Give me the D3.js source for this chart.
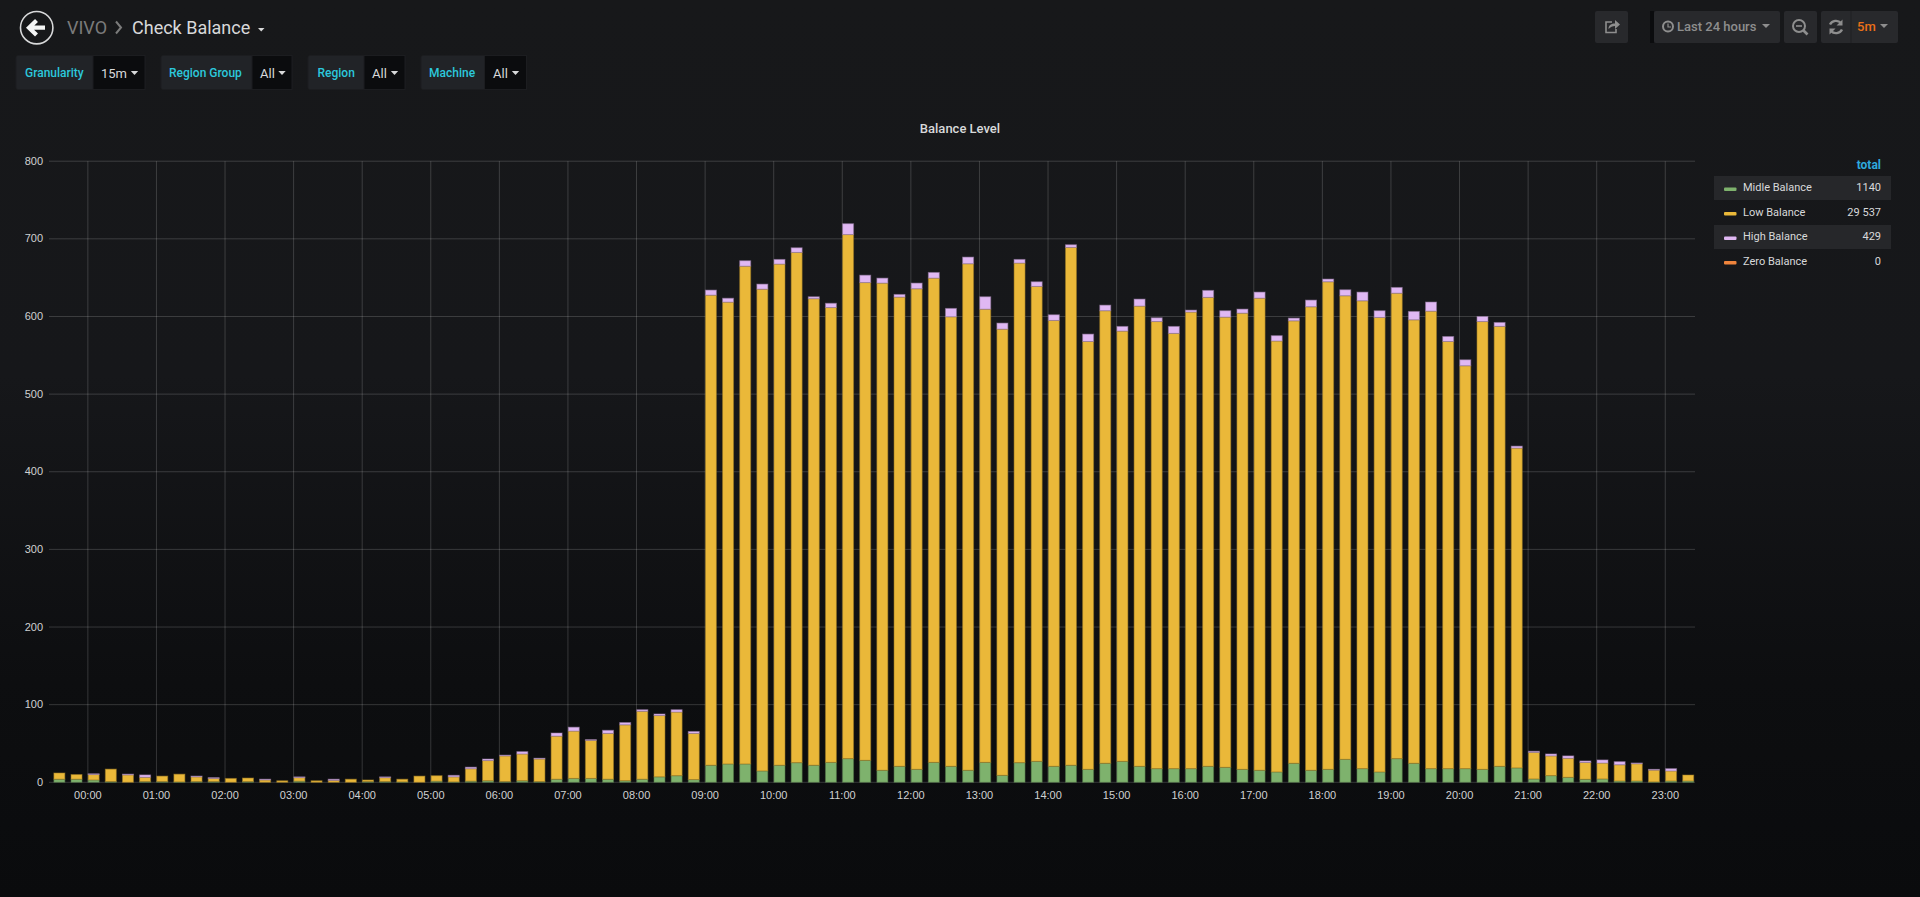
<!DOCTYPE html>
<html>
<head>
<meta charset="utf-8">
<script src="https://d3js.org/d3.v7.min.js"></script>
<style>
  html, body {margin:0; padding:0; width:1920px; height:897px; overflow:hidden;
    background:linear-gradient(#17181a 0%, #16171a 42%, #0d0e10 76%, #0a0b0d 100%);}
  svg {display:block; font-family:Roboto, sans-serif;}
  .tick text {fill:#d0d1d2; font-size:11px;}
  .grid .tick line {stroke:#fff; stroke-opacity:.17;}
</style>
</head>
<body>
<svg width="1920" height="897"></svg>
<script>
// one value per 15 minute bar, from 23:30 the day before to 23:15
const middleBalance = [4,4,3,1,0,1,1,0.5,1,1,0,1,0,0,1.5,0,0,0,1,1,0.5,0,1.5,0.5,1.5,2,1,2,1,4,5,5,4,2,4,7,8.5,3.5,
  22,23.6,23.6,14.6,22,25.3,22,25.7,30.5,28.3,15.5,20.6,16.7,25.7,20.6,15.5,25.7,9,25.3,27,20.6,22,
  16.7,24.5,27,20.6,17.6,17.6,17.6,20.6,19.3,16.7,15.5,13.3,24.5,15.5,16.7,29.6,17.6,13.3,30.5,24.5,
  17.6,17.6,17.6,16.7,20.6,18.5,4.3,8.6,6.4,3.9,4.3,1.7,1.7,0.5,1.7,1.7];
const lowBalance = [8,6,7,16,9.5,5.5,7,10,6,4,5,4.5,3,2,4.5,2,2.5,4,2,5,3.5,8,7,6.5,16,26,33,34.5,29,55.5,61,49,59,72,87.5,79,82,59.5,
  605.5,594.9,641.2,620.6,645.5,657.2,600.9,585.8,675,615.4,627.5,604.4,619,623.7,579,652.4,583.7,574.7,643.5,611.7,574.3,667,
  551.1,582.9,554.2,592.8,575.9,560.6,588.1,604,579.9,587.6,608.1,555.1,569.9,597,628,597.1,602.6,585.4,599.5,571.2,
  589.3,550.2,518.9,576.8,566.7,412,34.2,25.4,24.6,21.6,20.5,20.9,22.2,15.2,12.9,7.7];
const highBalance = [0,0,1,0,1,3,0,0,1,1,0,0,1,0,1,0,1.5,0,0,1,0,0,0,2,2,2,1,3,1,4,5,1,4,3,2,2,3,2.5,
  6.5,5,7,6.5,6,6,2.5,5.5,14,9.5,6.4,3.4,7.3,7.3,10.8,8.6,16,7.8,4.7,6,7.3,3.4,
  9.5,7.2,6,9,4.8,9,2.5,9,8.2,5.2,7.8,6.9,3.5,8.6,3.5,7.7,11.2,8.7,7.4,10.8,
  11.7,6.4,7.7,6.5,5,2.5,1.5,2.5,3,2,4,4,1,1,3,0];
const zeroBalance = middleBalance.map(() => 0);

const seriesNames = ["Midle Balance", "Low Balance", "High Balance", "Zero Balance"];
const seriesTotals = ["1140", "29 537", "429", "0"];
const seriesColors = ["#7eb26d", "#eab839", "#e0b8f3", "#ef843c"];
const yTicks = [0, 100, 200, 300, 400, 500, 600, 700, 800];
const variables = [
  {label:"Granularity", value:"15m", x0:16, xd:93, x1:145, tx:25, vx:101, cx:134.5},
  {label:"Region Group", value:"All", x0:161, xd:252, x1:292, tx:169, vx:260, cx:282},
  {label:"Region", value:"All", x0:308, xd:364, x1:405, tx:317.5, vx:372, cx:394.5},
  {label:"Machine", value:"All", x0:421, xd:484.5, x1:526.5, tx:429, vx:493, cx:515.5}
];

const svg = d3.select("svg");
const dayStart = new Date(2019, 0, 1, 0, 0);
const times = d3.range(middleBalance.length).map(i => d3.timeMinute.offset(dayStart, (i - 2) * 15));
const rows = times.map((t, i) => ({
  time: t,
  [seriesNames[0]]: middleBalance[i],
  [seriesNames[1]]: lowBalance[i],
  [seriesNames[2]]: highBalance[i],
  [seriesNames[3]]: zeroBalance[i]
}));

const x = d3.scaleTime()
  .domain([d3.timeMinute.offset(dayStart, -33.5), d3.timeMinute.offset(dayStart, 1406.4)])
  .range([49, 1695]);
const y = d3.scaleLinear().domain([0, 800]).range([782.3, 161.2]);

// gridlines and tick labels
const hours = d3.timeHour.range(dayStart, d3.timeHour.offset(dayStart, 24));
const gx = svg.append("g").attr("class", "grid")
  .attr("transform", "translate(0,782.3)")
  .call(d3.axisBottom(x).tickValues(hours).tickFormat(d3.timeFormat("%H:%M"))
    .tickSize(-(782.3 - 161.2)).tickPadding(9).offset(0));
gx.select(".domain").remove();
const gy = svg.append("g").attr("class", "grid")
  .attr("transform", "translate(49,0)")
  .call(d3.axisLeft(y).tickValues(yTicks).tickSize(-(1695 - 49)).tickPadding(6).offset(0));
gy.select(".domain").remove();

// stacked bars
const stack = d3.stack().keys(seriesNames);
const barWidth = 11;
svg.append("g").selectAll("g")
  .data(stack(rows))
  .join("g")
  .attr("fill", (d, i) => seriesColors[i])
  .attr("stroke", (d, i) => d3.color(seriesColors[i]).darker(1.2))
  .attr("stroke-opacity", .55)
  .selectAll("rect")
  .data(d => d.filter(p => p[1] > p[0]))
  .join("rect")
  .attr("x", d => x(d.data.time) + .3)
  .attr("y", d => y(d[1]))
  .attr("width", barWidth)
  .attr("height", d => y(d[0]) - y(d[1]));

svg.append("text").attr("x", 960).attr("y", 133).attr("text-anchor", "middle")
  .attr("fill", "#d8d9da").attr("font-size", 13).attr("font-weight", 500).text("Balance Level");

// legend
const legend = svg.append("g");
legend.append("text").attr("x", 1881).attr("y", 169).attr("text-anchor", "end")
  .attr("fill", "#2ea9dd").attr("font-size", 12).attr("font-weight", 700).text("total");
const legendRow = legend.selectAll("g").data(seriesNames).join("g")
  .attr("transform", (d, i) => `translate(0,${176 + i * 24.5})`);
legendRow.filter((d, i) => i % 2 == 0).append("rect")
  .attr("x", 1714).attr("width", 177).attr("height", 24).attr("fill", "#26272a");
legendRow.append("rect").attr("x", 1724).attr("y", 11.5).attr("width", 12.5).attr("height", 3.5)
  .attr("rx", 1).attr("fill", (d, i) => seriesColors[i]);
legendRow.append("text").attr("x", 1743).attr("y", 15).attr("fill", "#d8d9da").attr("font-size", 11).text(d => d);
legendRow.append("text").attr("x", 1881).attr("y", 15).attr("text-anchor", "end")
  .attr("fill", "#d8d9da").attr("font-size", 11).text((d, i) => seriesTotals[i]);

// header
const head = svg.append("g");
head.append("circle").attr("cx", 36.7).attr("cy", 27.7).attr("r", 16.2)
  .attr("fill", "none").attr("stroke", "#d8d9da").attr("stroke-width", 1.6);
head.append("path").attr("d", "M45 27.7H31M36.5 20.5L29 27.7L36.5 35")
  .attr("fill", "none").attr("stroke", "#f4f5f5").attr("stroke-width", 4.2);
head.append("text").attr("x", 67).attr("y", 33.5).attr("fill", "#7b7b7b").attr("font-size", 18).text("VIVO");
head.append("path").attr("d", "M116 21.5L121 27.5L116 33.5").attr("fill", "none")
  .attr("stroke", "#7b7b7b").attr("stroke-width", 2);
head.append("text").attr("x", 132).attr("y", 33.5).attr("fill", "#d8d9da").attr("font-size", 18).text("Check Balance");
head.append("path").attr("d", "M258 28H264.5L261.2 31.5Z").attr("fill", "#d8d9da");

// template variables
const vars = svg.append("g").selectAll("g").data(variables).join("g");
vars.append("rect").attr("x", d => d.x0).attr("y", 55.5).attr("width", d => d.x1 - d.x0).attr("height", 34)
  .attr("rx", 2).attr("fill", "#212327").attr("stroke", "#1c1d20");
vars.append("rect").attr("x", d => d.xd).attr("y", 55.5).attr("width", d => d.x1 - d.xd).attr("height", 34)
  .attr("fill", "#0b0c0e").attr("stroke", "#1c1d20");
vars.append("text").attr("x", d => d.tx).attr("y", 77).attr("fill", "#2cc8dc")
  .attr("font-size", 12).attr("font-weight", 500).text(d => d.label);
vars.append("text").attr("x", d => d.vx).attr("y", 78).attr("fill", "#d8d9da").attr("font-size", 13).text(d => d.value);
vars.append("path").attr("d", d => `M${d.cx - 3.7} 71H${d.cx + 3.7}L${d.cx} 75Z`).attr("fill", "#d8d9da");

// right toolbar
const bar = svg.append("g");
[[1595, 33], [1654, 126], [1784, 33], [1821, 77]].forEach(b => {
  bar.append("rect").attr("x", b[0]).attr("y", 11).attr("width", b[1]).attr("height", 32)
    .attr("rx", 2).attr("fill", "#28292c");
});
bar.append("rect").attr("x", 1650).attr("y", 11).attr("width", 4).attr("height", 32).attr("fill", "#0b0c0e");
bar.append("line").attr("x1", 1851).attr("x2", 1851).attr("y1", 11).attr("y2", 43).attr("stroke", "#1f2023");
const icon = bar.append("g").attr("fill", "none").attr("stroke", "#8e8e8e").attr("stroke-width", 2);
icon.append("path").attr("d", "M1612 22H1606V32.5H1616V29").attr("stroke-width", 1.6);
icon.append("path").attr("d", "M1608.5 29C1608.5 25 1611.5 23.5 1615 23.5V20L1620 24.5L1615 29V26C1612.5 26 1610.5 27 1608.5 29Z")
  .attr("fill", "#8e8e8e").attr("stroke", "none");
icon.append("circle").attr("cx", 1668).attr("cy", 26.5).attr("r", 5);
icon.append("path").attr("d", "M1668 23.5V27H1671").attr("stroke-width", 1.2);
icon.append("circle").attr("cx", 1799).attr("cy", 26).attr("r", 6);
icon.append("path").attr("d", "M1796 26H1802").attr("stroke-width", 1.6);
icon.append("path").attr("d", "M1803.5 30.5L1807.5 34.5").attr("stroke-width", 2.6);
icon.append("path").attr("d", "M1830 24.5A6.8 6.8 0 0 1 1841 23M1842 29.5A6.8 6.8 0 0 1 1831 31").attr("stroke-width", 2.4);
icon.append("path").attr("d", "M1842.5 19.5V25.5H1836.5ZM1829.5 34.5V28.5H1835.5Z").attr("fill", "#8e8e8e").attr("stroke", "none");
bar.append("text").attr("x", 1677).attr("y", 31).attr("fill", "#8e8e8e").attr("font-size", 13)
  .attr("font-weight", 500).text("Last 24 hours");
bar.append("path").attr("d", "M1762 24H1770L1766 28Z").attr("fill", "#8e8e8e");
bar.append("text").attr("x", 1857).attr("y", 31).attr("fill", "#eb7018").attr("font-size", 13)
  .attr("font-weight", 500).text("5m");
bar.append("path").attr("d", "M1880 24H1888L1884 28Z").attr("fill", "#8e8e8e");
</script>
</body>
</html>
